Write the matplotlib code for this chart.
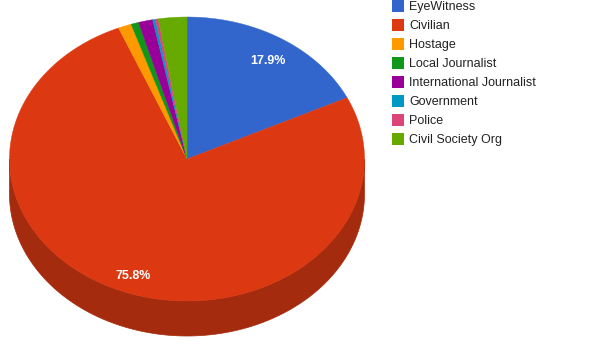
import numpy as np
import matplotlib
matplotlib.use("Agg")
import matplotlib.pyplot as plt
from matplotlib.patches import Polygon, Rectangle
from matplotlib.colors import to_rgb

categories = ["EyeWitness", "Civilian", "Hostage", "Local Journalist",
              "International Journalist", "Government", "Police", "Civil Society Org"]
values = [17.9, 75.8, 1.2, 0.7, 1.3, 0.25, 0.25, 2.6]
colors = ["#3366cc", "#dc3912", "#ff9900", "#109618",
          "#990099", "#0099c6", "#dd4477", "#66aa00"]

W, H = 604, 354
fig = plt.figure(figsize=(W / 100, H / 100), dpi=100)
ax = fig.add_axes([0, 0, 1, 1])
ax.set_xlim(0, W)
ax.set_ylim(H, 0)
ax.axis("off")

cx, cy, rx, ry, depth = 187, 159, 177.5, 142, 35

def rim(a0, a1, n=200):
    t = np.radians(np.linspace(a0, a1, n))
    return cx + rx * np.sin(t), cy - ry * np.cos(t)

total = sum(values)
angles = np.concatenate([[0], np.cumsum(values) / total * 360])

def darker(c, f=0.75):
    r, g, b = to_rgb(c)
    return (r * f, g * f, b * f)

# side walls (visible front between 90 and 270 deg)
for i, c in enumerate(colors):
    a0, a1 = max(angles[i], 90), min(angles[i + 1], 270)
    if a1 <= a0:
        continue
    x, y = rim(a0, a1)
    pts = np.vstack([np.column_stack([x, y]), np.column_stack([x[::-1], y[::-1] + depth])])
    ax.add_patch(Polygon(pts, closed=True, facecolor=darker(c), edgecolor=darker(c), lw=0.5))

# top faces
for i, c in enumerate(colors):
    x, y = rim(angles[i], angles[i + 1], max(3, int((angles[i + 1] - angles[i]) * 2)))
    pts = np.vstack([[cx, cy], np.column_stack([x, y])])
    ax.add_patch(Polygon(pts, closed=True, facecolor=c, edgecolor=c, lw=0.3))

# percentage labels
for i, v in enumerate(values):
    pct = v / total * 100
    if pct < 5:
        continue
    mid = np.radians((angles[i] + angles[i + 1]) / 2)
    lx = cx + 0.85 * rx * np.sin(mid)
    ly = cy - 0.85 * ry * np.cos(mid) + 2.5
    ax.text(lx, ly + 4.5, f"{pct:.1f}%", color="white", fontsize=9, fontweight="bold",
            family="Liberation Sans", ha="center", va="baseline")

# legend
for i, (name, c) in enumerate(zip(categories, colors)):
    yc = 5.7 + 19.0 * i
    ax.add_patch(Rectangle((392, yc - 6), 12, 12, facecolor=c, edgecolor="none"))
    ax.text(409, yc + 4.4, name, color="#222222", fontsize=9, family="Liberation Sans",
            ha="left", va="baseline")

fig.savefig("out.png", dpi=100)
